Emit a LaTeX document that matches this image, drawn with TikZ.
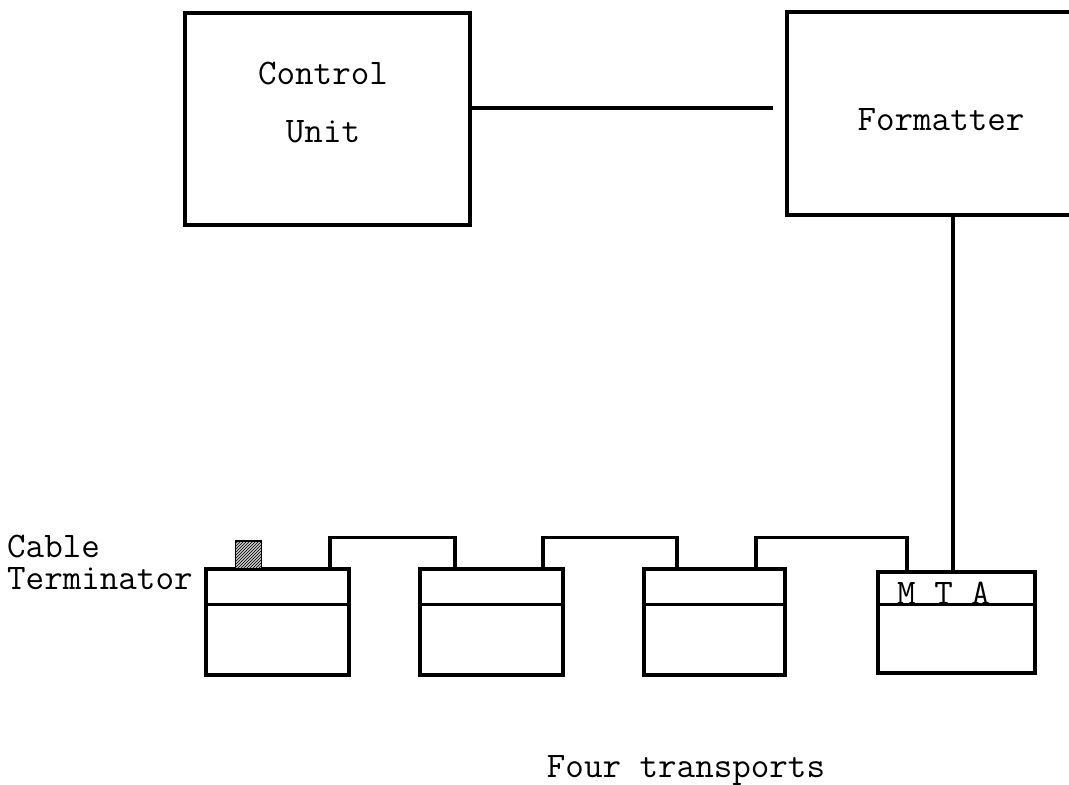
\documentclass[tikz,border=0pt]{standalone}
\usepackage{fontspec}
\usetikzlibrary{calc, positioning}
\usetikzlibrary{patterns}

\tikzset{
  wire/.style={line width=3.2pt},
  unitbox/.style={draw, line width=3.4pt, minimum width=285pt, minimum height=212pt, inner sep=0pt},
  tapebox/.style={draw, line width=3.4pt, minimum width=143pt, minimum height=106pt, inner sep=0pt},
  lbl/.style={font=\ttfamily\fontsize{36}{40}\selectfont, inner sep=0pt}
}

\begin{document}
\begin{tikzpicture}[x=1pt,y=-1pt]
\useasboundingbox (0,0) rectangle (1069,785);

% control unit and formatter
\node (ctrl) [unitbox] at (327.5,119) {};
\node (ctrltxt) [lbl, align=center, font=\ttfamily\fontsize{36}{58}\selectfont] at (323,102) {Control\\Unit};
\node (fmt) [unitbox, minimum width=291pt, minimum height=203pt] at (932.5,113.5) {};
\node (fmttxt) [lbl] at (941,120) {Formatter};

% the four transports
\node (t1) [tapebox] at (277.5,622) {};
\node (t2) [tapebox] at (491.5,622) {};
\node (t3) [tapebox, minimum width=141pt] at (714.5,622) {};
\node (t4) [tapebox, minimum width=157pt, minimum height=101pt] at (956.5,622.5) {};
\foreach \t/\d in {t1/37,t2/37,t3/37,t4/34}
  \draw[wire] ($(\t.north west)+(0,\d)$) -- ($(\t.north east)+(0,\d)$);
\node (mta) [lbl, anchor=west] at (897,593) {M T A};

% cable terminator
\node (term) [draw, line width=1.2pt, minimum width=26pt, minimum height=28pt, inner sep=0pt,
  preaction={fill=gray!45}, pattern=north east lines] at (248.5,555) {};
\node (cabletxt) [lbl, anchor=west] at (7,546) {Cable};
\node (termtxt) [lbl, anchor=west] at (7,579) {Terminator};

% connections
\coordinate (lvl) at (0,108);
\draw[wire, shorten >=12pt] (ctrl.east |- lvl) -- (fmt.west |- lvl);
\coordinate (fmtx) at (953,0);
\draw[wire] (fmt.south -| fmtx) -- (t4.north -| fmtx);
\draw[wire] ($(t1.north)+(52.5,0)$) -- ++(0,-30) -| ($(t2.north)+(-36.5,0)$);
\draw[wire] ($(t2.north)+(51.5,0)$) -- ++(0,-30) -| ($(t3.north)+(-37.5,0)$);
\draw[wire] ($(t3.north)+(41.5,0)$) -- ++(0,-30) -| ($(t4.north)+(-49.5,0)$);

\node (caption) [lbl] at (686,770) {Four transports};
\end{tikzpicture}
\end{document}
